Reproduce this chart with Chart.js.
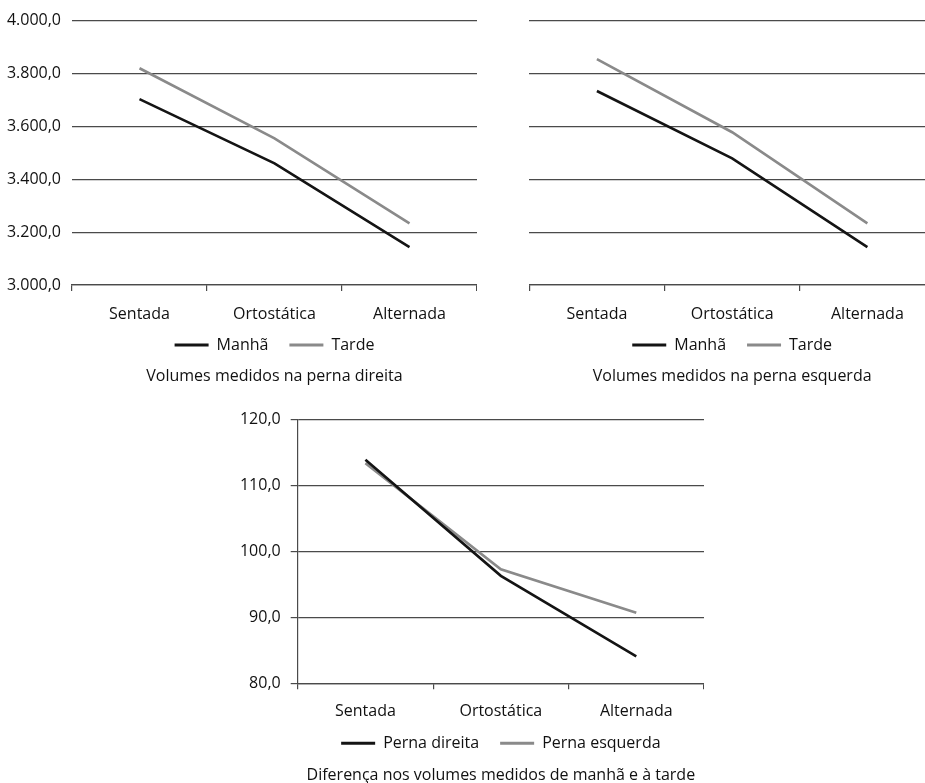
<!DOCTYPE html>
<html>
<head>
<meta charset="utf-8">
<script src="https://cdn.jsdelivr.net/npm/chart.js@4/dist/chart.umd.min.js"></script>
<style>
  html, body { margin: 0; padding: 0; background: #fff; width: 925px; height: 783px; overflow: hidden; position: relative; }
  .box { position: absolute; }
</style>
</head>
<body>
<div class="box" id="b1" style="left:0px; top:0px; width:477px; height:386px;"><canvas id="c1"></canvas></div>
<div class="box" id="b2" style="left:529px; top:0px; width:406px; height:386px;"><canvas id="c2"></canvas></div>
<div class="box" id="b3" style="left:200px; top:400px; width:504px; height:385px;"><canvas id="c3"></canvas></div>
<script>
// ---- data ----
const categories = ['Sentada', 'Ortostática', 'Alternada'];

const direitaManha = [3703, 3460, 3143];
const direitaTarde = [3820, 3555, 3233];

const esquerdaManha = [3734, 3479, 3143];
const esquerdaTarde = [3855, 3578, 3233];

const diffDireita = [113.9, 96.3, 84.1];
const diffEsquerda = [113.4, 97.3, 90.7];

const seriesNamesTop = ['Manhã', 'Tarde'];
const seriesNamesBottom = ['Perna direita', 'Perna esquerda'];

const titles = [
  'Volumes medidos na perna direita',
  'Volumes medidos na perna esquerda',
  'Diferença nos volumes medidos de manhã e à tarde'
];

// ---- styles ----
const BLACK = '#141414';
const GRAY = '#8a8a8a';
const GRID = '#4a4a4a';
const FONT = { family: "'Open Sans', sans-serif", size: 16 };
const TEXT = '#111111';

function fmt(v) {
  const s = v.toFixed(1).split('.');
  const intPart = s[0].replace(/\B(?=(\d{3})+(?!\d))/g, '.');
  return intPart + ',' + s[1];
}

function legendLabels(chart) {
  return chart.data.datasets.map((ds, i) => ({
    text: ds.label,
    fillStyle: ds.borderColor,
    strokeStyle: ds.borderColor,
    lineWidth: 0,
    hidden: false,
    datasetIndex: i,
    fontColor: TEXT
  }));
}

function makeChart(id, names, d1, d2, title, opts) {
  const ctx = document.getElementById(id);
  return new Chart(ctx, {
    type: 'line',
    data: {
      labels: categories,
      datasets: [
        { label: names[0], data: d1, borderColor: BLACK, backgroundColor: BLACK, borderWidth: 2.6, pointRadius: 0, tension: 0, fill: false },
        { label: names[1], data: d2, borderColor: GRAY, backgroundColor: GRAY, borderWidth: 2.6, pointRadius: 0, tension: 0, fill: false }
      ]
    },
    options: {
      responsive: true,
      maintainAspectRatio: false,
      animation: false,
      events: [],
      layout: { padding: { top: opts.padTop, bottom: opts.padBottom, left: 0, right: 0 } },
      scales: {
        x: {
          offset: true,
          grid: { display: true, offset: true, drawOnChartArea: false, drawTicks: true, tickLength: 6, color: GRID, lineWidth: 1.2 },
          border: { display: true, color: GRID, width: 1.2 },
          ticks: { color: TEXT, font: FONT, padding: opts.xPad, maxRotation: 0 },
          afterFit: (s) => {
            s.height = 31;
            // keep the category labels from being clipped to the shortened axis box
            s._computeLabelArea = () => undefined;
          }
        },
        y: {
          min: opts.min, max: opts.max,
          grid: { color: GRID, lineWidth: 1.2, drawTicks: opts.yTicks, tickLength: 7 },
          border: { display: opts.yBorder, color: GRID, width: 1.2 },
          ticks: { display: opts.yLabels, stepSize: opts.step, color: TEXT, font: FONT, padding: opts.yLabelPad, callback: (v) => fmt(v) },
          afterFit: (s) => { s.width = opts.yWidth; }
        }
      },
      plugins: {
        legend: {
          display: true, position: 'bottom', fullSize: false,
          labels: { boxWidth: 34, boxHeight: 3, padding: 21, color: TEXT, font: FONT, generateLabels: legendLabels }
        },
        title: {
          display: true, position: 'bottom', fullSize: false, text: title,
          color: TEXT, font: { family: FONT.family, size: 16, weight: 'normal' },
          padding: { top: opts.titlePad, bottom: 0 }
        },
        tooltip: { enabled: false }
      }
    }
  });
}

makeChart('c1', seriesNamesTop, direitaManha, direitaTarde, titles[0], {
  padTop: 20.7, padBottom: 0.4, min: 3000, max: 4000, step: 200,
  yLabels: true, yTicks: false, yBorder: false, yWidth: 72, yLabelPad: 11, xPad: 13.4, titlePad: 3.4
});
makeChart('c2', seriesNamesTop, esquerdaManha, esquerdaTarde, titles[1], {
  padTop: 20.7, padBottom: 0.4, min: 3000, max: 4000, step: 200,
  yLabels: false, yTicks: false, yBorder: false, yWidth: 0.3, yLabelPad: 0, xPad: 13.4, titlePad: 3.4
});
makeChart('c3', seriesNamesBottom, diffDireita, diffEsquerda, titles[2], {
  padTop: 18.7, padBottom: 0.4, min: 80, max: 120, step: 10,
  yLabels: true, yTicks: true, yBorder: true, yWidth: 97.7, yLabelPad: 10, xPad: 12.8, titlePad: 4.1
});
</script>
</body>
</html>
